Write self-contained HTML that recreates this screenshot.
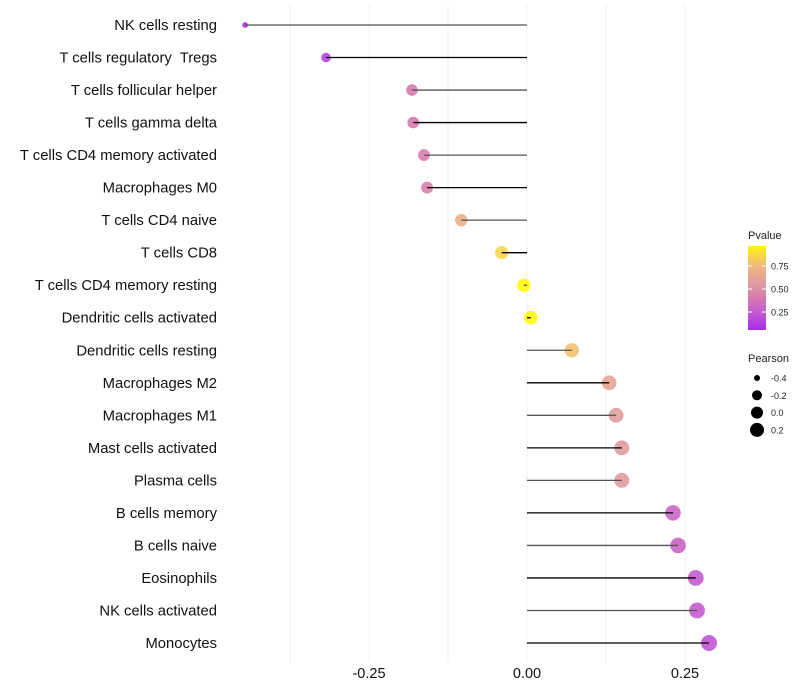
<!DOCTYPE html>
<html><head><meta charset="utf-8"><style>
body{margin:0;background:#fff;font-family:"Liberation Sans",sans-serif}
svg{display:block}
text{white-space:pre}
</style></head><body>
<svg id="c" width="800" height="700" xmlns="http://www.w3.org/2000/svg"></svg>
<script>
const categories=["NK cells resting","T cells regulatory  Tregs","T cells follicular helper","T cells gamma delta","T cells CD4 memory activated","Macrophages M0","T cells CD4 naive","T cells CD8","T cells CD4 memory resting","Dendritic cells activated","Dendritic cells resting","Macrophages M2","Macrophages M1","Mast cells activated","Plasma cells","B cells memory","B cells naive","Eosinophils","NK cells activated","Monocytes"];
const pearson=[-0.446,-0.318,-0.182,-0.180,-0.163,-0.158,-0.104,-0.040,-0.005,0.006,0.071,0.130,0.141,0.150,0.150,0.231,0.239,0.267,0.269,0.288];
const pvalues=[0.05,0.15,0.40,0.40,0.43,0.43,0.70,0.86,0.98,0.98,0.78,0.63,0.57,0.56,0.56,0.30,0.29,0.25,0.25,0.22];
const xTicks=[-0.25,0,0.25];
const xTickLabels=["-0.25","0.00","0.25"];
const xGrid=[-0.375,-0.25,-0.125,0,0.125,0.25];
const colorTicks=[0.25,0.5,0.75];
const sizeLegend=[-0.4,-0.2,0.0,0.2];

const NS="http://www.w3.org/2000/svg";
const svg=document.getElementById('c');
function el(t,a,p){const e=document.createElementNS(NS,t);for(const k in a)e.setAttribute(k,a[k]);(p||svg).appendChild(e);return e;}
const x=v=>527+v*632;
const y=i=>25+i*(618/19);
const stops=[[0,[160,32,240]],[0.25,[197,92,208]],[0.4,[214,122,174]],[0.55,[224,154,160]],[0.65,[232,168,144]],[0.75,[239,184,128]],[1,[255,255,0]]];
function col(p){for(let i=1;i<stops.length;i++){if(p<=stops[i][0]){const a=stops[i-1],b=stops[i],t=(p-a[0])/(b[0]-a[0]);const c=a[1].map((v,j)=>Math.round(v+(b[1][j]-v)*t));return `rgb(${c})`;}}return 'rgb(255,255,0)';}
const pmin=-0.45,pmax=0.29;
const rad=v=>2.5+5.5*Math.sqrt(Math.max(0,(v-pmin)/(pmax-pmin)));

xGrid.forEach((g,i)=>{const l=el('line',{x1:x(g),x2:x(g),y1:5,y2:662,stroke:'#efefef','stroke-width':1});
});
xTicks.forEach((t,i)=>{const tx=el('text',{x:x(t),y:678,'text-anchor':'middle','font-size':14.5,fill:'#111'});tx.textContent=xTickLabels[i];
});
categories.forEach((c,i)=>{
 const t=el('text',{x:217,y:y(i)+5,'text-anchor':'end','font-size':14.8,fill:'#111'});t.textContent=c;
 
 const p=el('circle',{cx:x(pearson[i]),cy:y(i),r:rad(pearson[i]),fill:col(pvalues[i]),'fill-opacity':0.9});
 
 const s=el('line',{x1:x(0),x2:x(pearson[i]),y1:y(i),y2:y(i),stroke:i%2?'#000':'#555','stroke-width':1.3});
 
});
const lt=el('text',{x:748,y:239,'font-size':11,fill:'#222'});lt.textContent='Pvalue';

const defs=el('defs',{});const lg=el('linearGradient',{id:'g',x1:0,y1:1,x2:0,y2:0},defs);
for(let k=0;k<=20;k++){const p=0.05+0.92*k/20;el('stop',{offset:k/20,'stop-color':col(p)},lg);}
const cb=el('rect',{x:748,y:246,width:18,height:84,fill:'url(#g)'});

const cy=p=>335-p*92;
colorTicks.forEach(p=>{el('line',{x1:748,x2:752,y1:cy(p),y2:cy(p),stroke:'#fff'});el('line',{x1:762,x2:766,y1:cy(p),y2:cy(p),stroke:'#fff'});
 const t=el('text',{x:771,y:cy(p)+3.5,'font-size':9,fill:'#222'});t.textContent=p.toFixed(2);
 });
const st=el('text',{x:748,y:362,'font-size':11,fill:'#222'});st.textContent='Pearson';

sizeLegend.forEach((v,i)=>{const yy=378+i*17.3;
 const c=el('circle',{cx:757,cy:yy,r:[3,5,6,7][i],fill:'#000'});
 
 const t=el('text',{x:771,y:yy+3.5,'font-size':9,fill:'#222'});t.textContent=v.toFixed(1);
 });
</script>
</body></html>
